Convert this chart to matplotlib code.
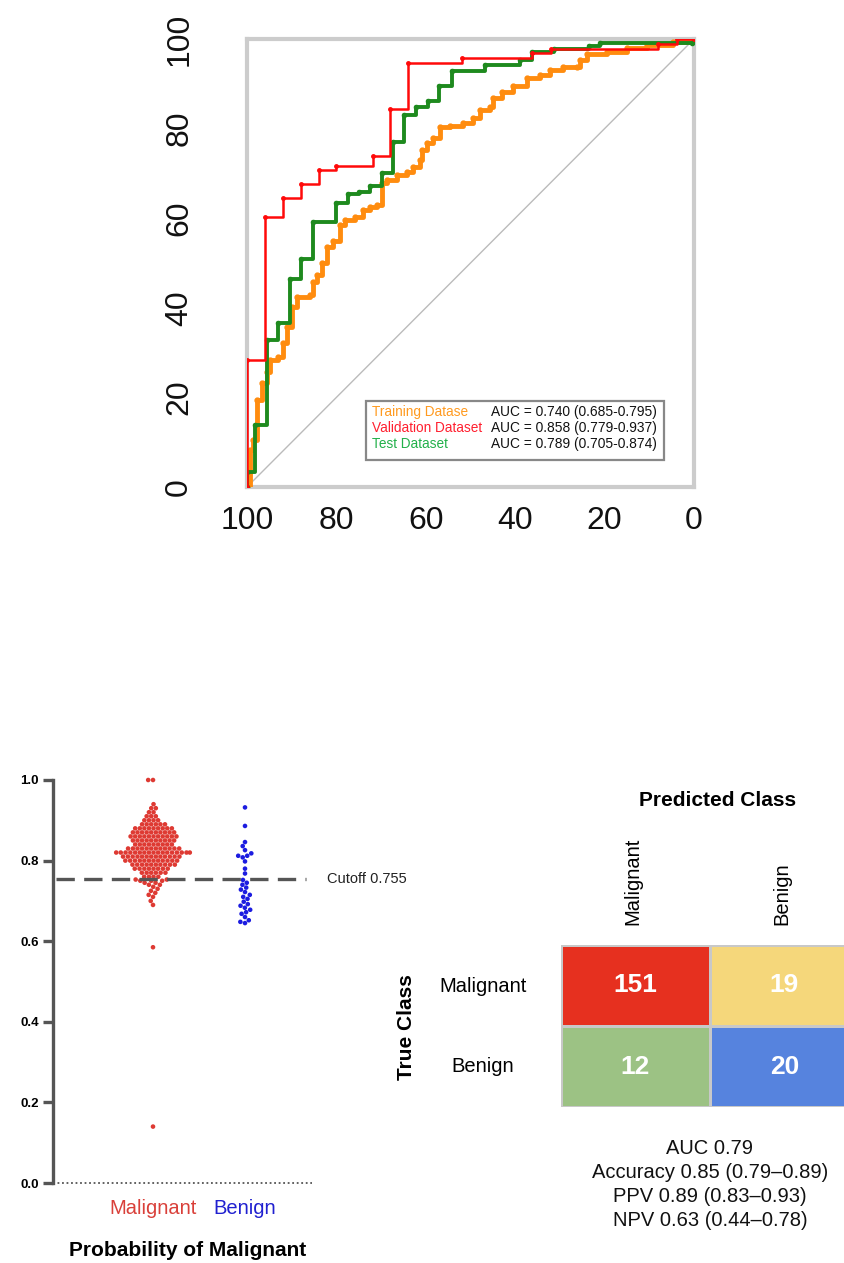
import numpy as np
import pandas as pd
import matplotlib
matplotlib.use("Agg")
import matplotlib.pyplot as plt
from matplotlib.colors import ListedColormap
from matplotlib.patches import Rectangle
import seaborn as sns

plt.rcParams['font.family'] = ['Liberation Sans', 'DejaVu Sans']

# ROC curves: (specificity, sensitivity) corners of each step
train_spec = [100, 99.3, 98.6, 97.8, 96.7, 95.6, 94.9, 93.0, 91.9, 91.1, 90.0, 88.9, 85.9, 85.2, 84.3,
              83.3, 82.2, 80.7, 79.2, 78.1, 75.8, 74.0, 72.5, 71.0, 69.9, 68.7, 66.5, 64.3, 62.8, 61.3,
              60.9, 59.8, 58.3, 56.8, 54.6, 51.6, 49.4, 47.9, 45.6, 44.9, 43.0, 40.4, 37.4, 34.5, 32.2,
              29.2, 26.2, 25.5, 24.0, 19.5, 15.0, 10.6, 4.6, 0.0]
train_sens = [0, 8.3, 10.5, 19.4, 23.2, 25.7, 28.3, 29.1, 32.1, 35.8, 40.2, 42.5, 42.9, 45.8, 47.3,
              49.9, 53.6, 54.8, 58.5, 59.6, 60.3, 61.8, 62.6, 62.9, 67.8, 68.5, 69.6, 70.4, 71.5, 73.0,
              75.2, 76.7, 77.8, 80.4, 80.6, 81.2, 82.3, 84.2, 84.9, 86.8, 88.2, 89.4, 91.2, 92.0, 93.1,
              93.7, 93.8, 95.3, 96.7, 97.2, 97.9, 98.7, 99.4, 100]

valid_spec = [100, 100, 96, 92, 88, 83.8, 80, 71.9, 67.9, 63.9, 52, 36.3, 32, 8, 3.9, 0]
valid_sens = [0, 28.3, 60.3, 64.6, 67.6, 70.8, 71.7, 73.9, 84.3, 94.7, 95.7, 96.8, 97.7, 98.9, 100, 100]

test_spec = [100, 100, 98.2, 95.6, 93.0, 90.4, 87.9, 85.3, 80.1, 77.4, 74.9, 72.5, 69.9, 67.3, 64.8,
             62.3, 59.4, 57.0, 54.2, 46.8, 38.9, 36.3, 31.4, 23.6, 21.0, 0.5, 0]
test_sens = [0, 3.4, 13.8, 32.8, 36.5, 46.4, 50.8, 59.2, 63.5, 65.4, 65.9, 67.2, 70.2, 76.9, 83.0,
             84.9, 86.2, 89.4, 92.9, 94.3, 95.4, 97.1, 97.8, 98.4, 99.0, 99.0, 100]

roc_names = ["Training Datase", "Validation Dataset", "Test Dataset"]
roc_auc = ["AUC = 0.740 (0.685-0.795)", "AUC = 0.858 (0.779-0.937)", "AUC = 0.789 (0.705-0.874)"]

# predicted probabilities
mal_levels = [0.76, 0.77, 0.78, 0.79, 0.80, 0.81, 0.82, 0.83, 0.84, 0.85, 0.86, 0.87, 0.88, 0.89,
              0.90, 0.91, 0.92, 0.93, 0.94, 1.00]
mal_counts = [4, 6, 8, 10, 12, 13, 17, 12, 9, 10, 11, 10, 9, 6, 4, 3, 2, 2, 1, 2]
mal_low = [0.14, 0.585, 0.69, 0.70, 0.71, 0.715, 0.72, 0.725, 0.73, 0.735, 0.74, 0.74, 0.745, 0.745,
           0.75, 0.75, 0.75, 0.753, 0.753]
ben_vals = [0.932, 0.886, 0.846, 0.836, 0.826, 0.818, 0.812, 0.812, 0.808, 0.798, 0.780, 0.768,
            0.752, 0.745, 0.740, 0.733, 0.728, 0.722, 0.715, 0.710, 0.705, 0.698, 0.692, 0.688,
            0.683, 0.678, 0.672, 0.668, 0.660, 0.652, 0.648, 0.645]
cutoff = 0.755

# confusion matrix
classes = ["Malignant", "Benign"]
cm_counts = [[151, 19], [12, 20]]
cm_colors = ["#E6301F", "#F5D77B", "#9CC284", "#5683DE"]
stats_lines = ["AUC 0.79", "Accuracy 0.85 (0.79\u20130.89)", "PPV 0.89 (0.83\u20130.93)", "NPV 0.63 (0.44\u20130.78)"]

W, H = 845, 1263
fig = plt.figure(figsize=(W / 100, H / 100), dpi=100)


def px_axes(x0, y0, x1, y1):
    return fig.add_axes([x0 / W, 1 - y1 / H, (x1 - x0) / W, (y1 - y0) / H])


# ---------------- ROC ----------------
ax = px_axes(247, 39, 694, 487)
ax.plot([100, 0], [0, 100], color="#bbbbbb", lw=1)
ax.plot(train_spec, train_sens, drawstyle="steps-post", color="#FF8C0F", lw=3.5,
        marker="o", ms=3.5, zorder=3)
ax.plot(test_spec, test_sens, drawstyle="steps-post", color="#1E8A1E", lw=2.8,
        marker="o", ms=3, zorder=4)
ax.plot(valid_spec, valid_sens, drawstyle="steps-post", color="#FF0A0A", lw=1.8,
        marker="o", ms=2.5, zorder=5)
ax.set_xlim(100, 0)
ax.set_ylim(0, 100)
ax.set_xticks([100, 80, 60, 40, 20, 0])
ax.set_yticks([0, 20, 40, 60, 80, 100])
for s in ax.spines.values():
    s.set_color("#cccccc")
    s.set_linewidth(3)
ax.tick_params(axis="both", length=0, labelsize=23, colors="#111111")
ax.tick_params(axis="x", pad=14)
ax.tick_params(axis="y", pad=38)
for lab in ax.get_yticklabels():
    lab.set_rotation(90)
    lab.set_va("center")

ax.add_patch(Rectangle((119 / 447, 27 / 448), 298 / 447, 59 / 448, transform=ax.transAxes,
                       fill=True, facecolor="white", edgecolor="#888888", lw=1.6, zorder=6))
name_colors = ["#FF9A1F", "#FF1F2F", "#22B04A"]
for i, (nm, auc) in enumerate(zip(roc_names, roc_auc)):
    yy = (487 - (412 + 16 * i)) / 448
    ax.text(125 / 447, yy, nm, color=name_colors[i], fontsize=9.8, va="center",
            transform=ax.transAxes, zorder=7)
    ax.text(244 / 447, yy, auc, color="#111111", fontsize=9.9, va="center",
            transform=ax.transAxes, zorder=7)

# ---------------- swarm ----------------
mal_vals = list(np.repeat(mal_levels, mal_counts)) + mal_low
df = pd.DataFrame({
    "group": ["Malignant"] * len(mal_vals) + ["Benign"] * len(ben_vals),
    "prob": mal_vals + ben_vals,
})
y_lo, y_hi = -0.02, 1.05
bx = px_axes(53, 1183 - y_hi * 403, 312, 1183 - y_lo * 403)
sns.swarmplot(data=df, x="group", y="prob", hue="group", order=classes,
              palette={"Malignant": "#DE3A33", "Benign": "#1C1CE0"}, size=3.3,
              linewidth=0, legend=False, ax=bx)
for c in bx.collections:
    c.set_clip_on(False)
bx.set_xlim(-100 / 92, 1 + 67 / 92)
bx.set_ylim(y_lo, y_hi)
bx.axhline(cutoff, xmin=0.01, xmax=0.975, color="#555555", lw=2.4, dashes=(5.5, 2.8), zorder=3)
bx.axhline(0, color="#555555", lw=1.3, ls=(0, (1, 1.5)))
fig.text(327 / W, 1 - (1183 - cutoff * 403) / H, "Cutoff 0.755", fontsize=10.5, color="#222222",
         va="center")
for s in ["top", "right", "bottom"]:
    bx.spines[s].set_visible(False)
bx.spines["left"].set_bounds(0, 1)
bx.spines["left"].set_color("#555555")
bx.spines["left"].set_linewidth(2.4)
bx.set_yticks([0, 0.2, 0.4, 0.6, 0.8, 1.0])
bx.set_yticklabels(["0.0", "0.2", "0.4", "0.6", "0.8", "1.0"], fontweight="bold")
bx.tick_params(axis="y", length=7, width=2.4, color="#555555", labelsize=9.5, pad=3)
bx.set_xticks([0, 1])
bx.set_xticklabels(classes)
bx.tick_params(axis="x", length=0, labelsize=14.5, pad=6)
bx.get_xticklabels()[0].set_color("#D9403A")
bx.get_xticklabels()[1].set_color("#2020D0")
bx.set_xlabel("")
bx.set_ylabel("")
fig.text(188 / W, 1 - 1250 / H, "Probability of Malignant", fontsize=15, fontweight="bold",
         ha="center", va="center")

# ---------------- confusion matrix ----------------
cx = px_axes(561, 945, 859, 1107)
cx.pcolormesh(np.arange(4).reshape(2, 2), cmap=ListedColormap(cm_colors), vmin=-0.5, vmax=3.5,
              edgecolors="#c8c8c8", linewidth=0.8)
cx.set_xlim(0, 2)
cx.set_ylim(2, 0)
cx.axis("off")
for r in range(2):
    for c in range(2):
        cx.text(c + 0.5, r + 0.5, str(cm_counts[r][c]), color="white", fontsize=19,
                fontweight="bold", ha="center", va="center")
for c, nm in enumerate(classes):
    cx.text(c + 0.48, -0.25, nm, rotation=90, fontsize=14.5, ha="center", va="bottom")
for r, nm in enumerate(classes):
    fig.text(483 / W, 1 - (986 + 81 * r) / H, nm, fontsize=14.5, ha="center", va="center")
fig.text(718 / W, 1 - 801 / H, "Predicted Class", fontsize=15, fontweight="bold",
         ha="center", va="center")
fig.text(407 / W, 1 - 1027 / H, "True Class", fontsize=15, fontweight="bold", rotation=90,
         ha="center", va="center")
for i, line in enumerate(stats_lines):
    fig.text(710 / W, 1 - (1148 + 24 * i) / H, line, fontsize=14.5, ha="center", va="center",
             color="#111111")

fig.savefig("out.png", dpi=100)
